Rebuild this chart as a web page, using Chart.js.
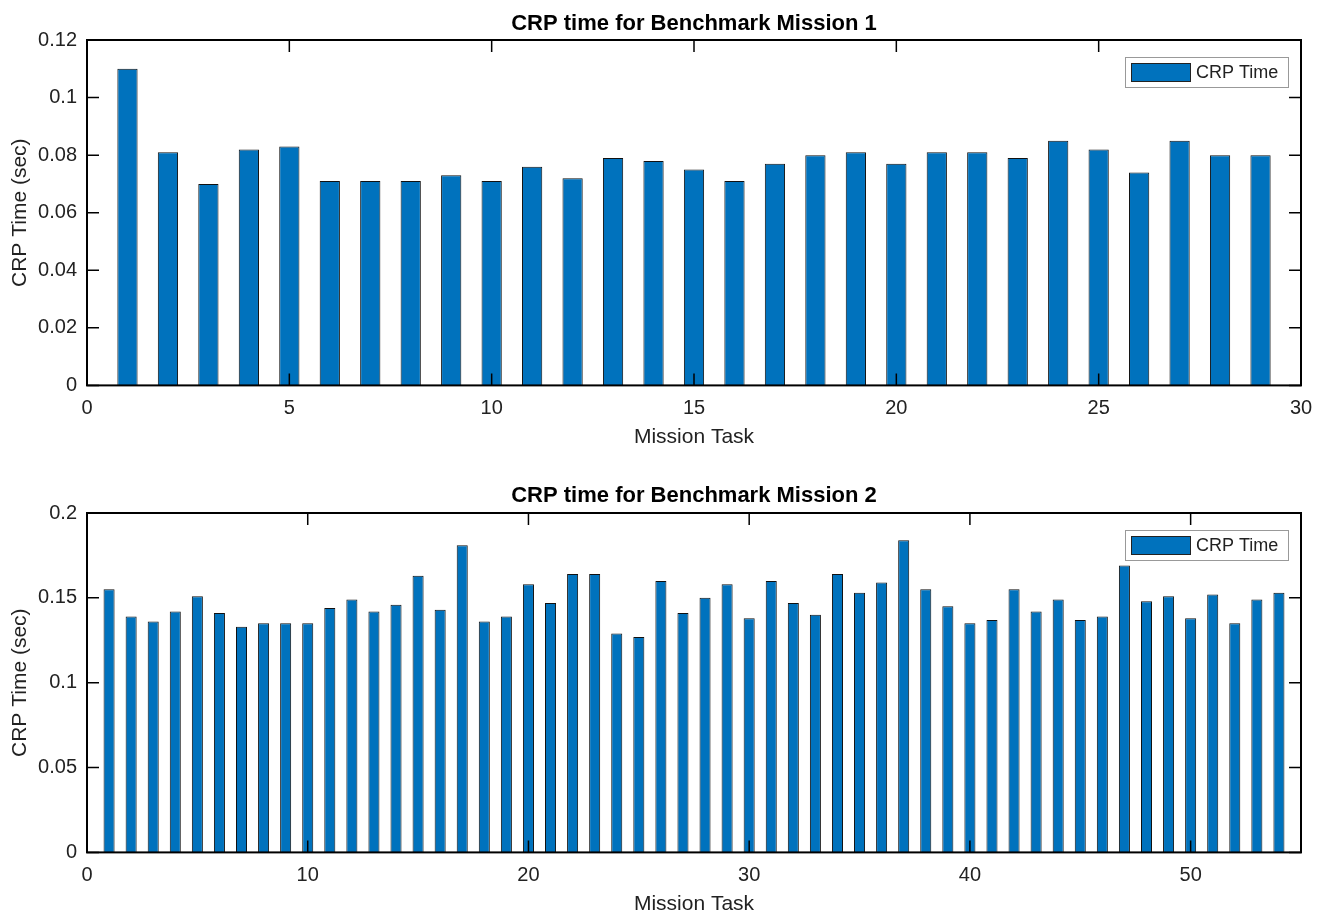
<!DOCTYPE html>
<html>
<head>
<meta charset="utf-8">
<script src="https://cdn.jsdelivr.net/npm/chart.js@4.4.1/dist/chart.umd.min.js"></script>
<style>
  html, body { margin: 0; padding: 0; background: #fff; overflow: hidden; }
  .panel { position: absolute; left: 0; }
  #top { top: 0; }
  #bottom { top: 457px; }
</style>
</head>
<body>
<div class="panel" id="top"><canvas id="chart1" width="1325" height="460"></canvas></div>
<div class="panel" id="bottom"><canvas id="chart2" width="1325" height="460"></canvas></div>
<script>
// Mission 1
const tasks1 = [1,2,3,4,5,6,7,8,9,10,11,12,13,14,15,16,17,18,19,20,21,22,23,24,25,26,27,28,29];
const crpTime1 = [0.110,0.081,0.070,0.082,0.083,0.071,0.071,0.071,0.073,0.071,0.076,0.072,0.079,0.078,0.075,
                  0.071,0.077,0.080,0.081,0.077,0.081,0.081,0.079,0.085,0.082,0.074,0.085,0.080,0.080];
const xTicks1 = ['0','5','10','15','20','25','30'];
const yTicks1 = ['0','0.02','0.04','0.06','0.08','0.1','0.12'];

// Mission 2
const tasks2 = [1,2,3,4,5,6,7,8,9,10,11,12,13,14,15,16,17,18,19,20,21,22,23,24,25,26,27,
                28,29,30,31,32,33,34,35,36,37,38,39,40,41,42,43,44,45,46,47,48,49,50,51,52,53,54];
const crpTime2 = [0.155,0.139,0.136,0.142,0.151,0.141,0.133,0.135,0.135,0.135,
                  0.144,0.149,0.142,0.146,0.163,0.143,0.181,0.136,0.139,0.158,
                  0.147,0.164,0.164,0.129,0.127,0.160,0.141,0.150,0.158,0.138,
                  0.160,0.147,0.140,0.164,0.153,0.159,0.184,0.155,0.145,0.135,
                  0.137,0.155,0.142,0.149,0.137,0.139,0.169,0.148,0.151,0.138,
                  0.152,0.135,0.149,0.153];
const xTicks2 = ['0','10','20','30','40','50'];
const yTicks2 = ['0','0.05','0.1','0.15','0.2'];

const barColor = '#0072BD';
const textColor = '#222';

Chart.defaults.font.family = "'Liberation Sans', Arial, Helvetica, sans-serif";
Chart.defaults.color = textColor;

// matlab style box, inward ticks and framed legend
const matlabBox = {
  id: 'matlabBox',
  afterDatasetsDraw(chart) {
    const {ctx, chartArea: a, scales: {x, y}} = chart;
    const len = 12;
    ctx.save();
    ctx.strokeStyle = '#000';
    ctx.lineWidth = 1.5;
    ctx.beginPath();
    x.ticks.forEach(t => {
      const px = x.getPixelForValue(t.value);
      ctx.moveTo(px, a.bottom); ctx.lineTo(px, a.bottom - len);
      ctx.moveTo(px, a.top); ctx.lineTo(px, a.top + len);
    });
    y.ticks.forEach(t => {
      const py = y.getPixelForValue(t.value);
      ctx.moveTo(a.left, py); ctx.lineTo(a.left + len, py);
      ctx.moveTo(a.right, py); ctx.lineTo(a.right - len, py);
    });
    ctx.stroke();
    ctx.lineWidth = 2;
    ctx.strokeRect(a.left, a.top, a.right - a.left, a.bottom - a.top);

    // legend
    const ds = chart.data.datasets[0];
    const w = 163, h = 30;
    const lx = a.right - 13 - w, ly = a.top + 17;
    ctx.fillStyle = '#fff';
    ctx.fillRect(lx, ly, w, h);
    ctx.strokeStyle = '#999';
    ctx.lineWidth = 1;
    ctx.strokeRect(lx + 0.5, ly + 0.5, w, h);
    ctx.fillStyle = ds.backgroundColor;
    ctx.fillRect(lx + 6, ly + 6, 60, 19);
    ctx.strokeStyle = '#222';
    ctx.strokeRect(lx + 6.5, ly + 6.5, 59, 18);
    ctx.fillStyle = textColor;
    ctx.font = "18px 'Liberation Sans', Arial, sans-serif";
    ctx.textBaseline = 'middle';
    ctx.textAlign = 'left';
    ctx.fillText(ds.label, lx + 71, ly + h / 2 + 1);
    ctx.restore();
  }
};

function makeChart(id, tasks, values, title, xMax, xStep, xLabels, yMax, yStep, yLabels, titlePad, bottomPad) {
  return new Chart(document.getElementById(id), {
    type: 'bar',
    data: {
      datasets: [{
        label: 'CRP Time',
        data: tasks.map((t, i) => ({x: t, y: values[i]})),
        backgroundColor: barColor,
        borderColor: '#111',
        borderWidth: 1,
        categoryPercentage: 1,
        barPercentage: 0.5
      }]
    },
    options: {
      responsive: false,
      animation: false,
      devicePixelRatio: 1,
      layout: { padding: { left: 0, right: 24, top: 0, bottom: bottomPad } },
      plugins: {
        legend: { display: false },
        tooltip: { enabled: false },
        title: {
          display: true,
          text: title,
          fullSize: false,
          color: '#000',
          font: { size: 22, weight: 'bold' },
          padding: titlePad
        }
      },
      scales: {
        x: {
          type: 'linear',
          min: 0,
          max: xMax,
          offset: false,
          grid: { display: false, drawTicks: false, offset: false },
          border: { display: false },
          ticks: {
            stepSize: xStep,
            includeBounds: false,
            autoSkip: false,
            maxRotation: 0,
            padding: 11,
            font: { size: 20 },
            callback: (v, i) => xLabels[i]
          },
          title: { display: true, text: 'Mission Task', font: { size: 21 }, padding: { top: -7, bottom: 0 } }
        },
        y: {
          min: 0,
          max: yMax,
          grid: { display: false, drawTicks: false },
          border: { display: false },
          ticks: {
            stepSize: yStep,
            includeBounds: false,
            padding: 10,
            font: { size: 20 },
            callback: (v, i) => yLabels[i]
          },
          title: { display: true, text: 'CRP Time (sec)', font: { size: 21 }, padding: { top: 7.4, bottom: 0 } },
          afterFit: (scale) => { scale.width = 87; }
        }
      }
    },
    plugins: [matlabBox]
  });
}

makeChart('chart1', tasks1, crpTime1, 'CRP time for Benchmark Mission 1',
  30, 5, xTicks1, 0.12, 0.02, yTicks1, { top: 10.8, bottom: 2.8 }, 10.4);
makeChart('chart2', tasks2, crpTime2, 'CRP time for Benchmark Mission 2',
  55, 10, xTicks2, 0.2, 0.05, yTicks2, { top: 25.8, bottom: 3.8 }, 0.4);
</script>
</body>
</html>
